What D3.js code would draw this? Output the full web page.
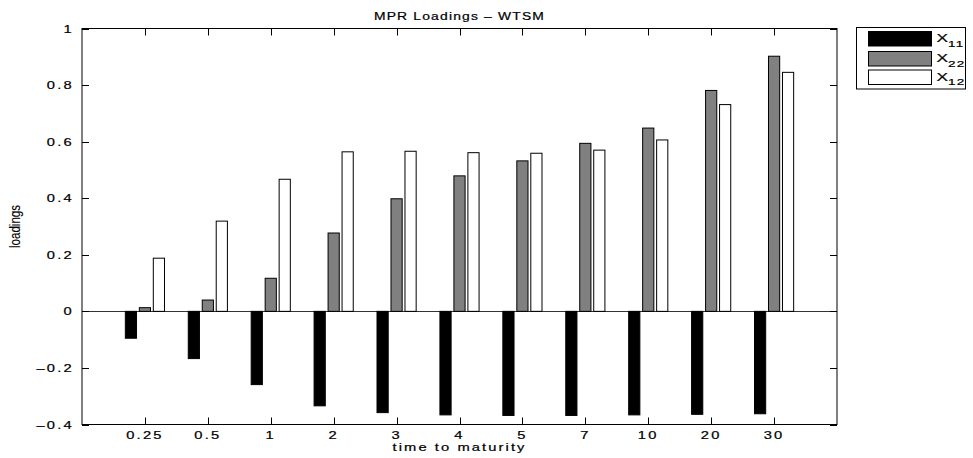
<!DOCTYPE html>
<html>
<head>
<meta charset="utf-8">
<script src="https://cdn.jsdelivr.net/npm/d3@7"></script>
<style>
  html, body { margin: 0; padding: 0; background: #fff; }
  svg text { font-family: "Liberation Sans", Arial, Helvetica, sans-serif; fill: #000; stroke: #000; stroke-width: 0.2px; }
</style>
</head>
<body>
<svg id="chart" width="973" height="458"></svg>
<script>
// Maturities (years) shown as categories along the x axis
const maturities = ["0.25", "0.5", "1", "2", "3", "4", "5", "7", "10", "20", "30"];

// Market-price-of-risk loadings per factor
const loadX11 = [-0.095, -0.167, -0.259, -0.334, -0.358, -0.366, -0.368, -0.368, -0.366, -0.364, -0.362];
const loadX22 = [0.013, 0.040, 0.117, 0.277, 0.398, 0.479, 0.532, 0.594, 0.648, 0.781, 0.902];
const loadX12 = [0.188, 0.319, 0.467, 0.564, 0.566, 0.561, 0.559, 0.570, 0.606, 0.731, 0.845];

const yTicks = [-0.4, -0.2, 0, 0.2, 0.4, 0.6, 0.8, 1];

const series = [
  { sub: "11", values: loadX11, fill: "#000000" },
  { sub: "22", values: loadX22, fill: "#808080" },
  { sub: "12", values: loadX12, fill: "#ffffff" }
];

const svg = d3.select("#chart");
const plotL = 82, plotR = 837, plotT = 28.5, plotB = 424.5;

// categories sit at integer positions 1..n on a 0..n+1 axis
const x = d3.scaleLinear().domain([0, maturities.length + 1]).range([plotL, plotR]);
const y = d3.scaleLinear().domain([-0.4, 1]).range([plotB, plotT]);

const groupWidth = Math.min(0.8, series.length / (series.length + 1.5));
const barWidth = groupWidth / series.length * 0.8;
const offsets = series.map((s, i) => (i - (series.length - 1) / 2) * groupWidth / series.length);

const sx = 1.4;       // horizontal stretch of label glyphs
const fs = 10.5;

function label(g, txt, px, py, anchor, opts = {}) {
  return g.append("text")
    .attr("transform", `translate(${px},${py}) scale(${opts.sx || sx},1)`)
    .attr("text-anchor", anchor)
    .style("font-size", (opts.size || fs) + "px")
    .style("letter-spacing", (opts.ls == null ? 1.6 : opts.ls) + "px")
    .text(txt);
}

// bars
series.forEach((s, si) => {
  svg.append("g").selectAll("rect")
    .data(s.values)
    .join("rect")
    .attr("x", (d, i) => x(i + 1 + offsets[si] - barWidth / 2))
    .attr("width", (d, i) => x(i + 1 + offsets[si] + barWidth / 2) - x(i + 1 + offsets[si] - barWidth / 2))
    .attr("y", d => Math.min(y(d), y(0)))
    .attr("height", d => Math.abs(y(d) - y(0)))
    .attr("fill", s.fill)
    .attr("stroke", "#000")
    .attr("stroke-width", 1);
});

// zero baseline
svg.append("line")
  .attr("x1", plotL).attr("x2", plotR)
  .attr("y1", Math.round(y(0)) + 0.5).attr("y2", Math.round(y(0)) + 0.5)
  .attr("stroke", "#000").attr("stroke-width", 0.8);

// axes box with inward ticks
const tickLen = 7;
const axes = svg.append("g").attr("stroke", "#000").attr("stroke-width", 1).attr("fill", "none");
axes.append("rect").attr("x", plotL).attr("y", plotT).attr("width", plotR - plotL).attr("height", plotB - plotT);

maturities.forEach((m, i) => {
  const px = Math.round(x(i + 1)) + 0.5;
  axes.append("line").attr("x1", px).attr("x2", px).attr("y1", plotB).attr("y2", plotB - tickLen);
  axes.append("line").attr("x1", px).attr("x2", px).attr("y1", plotT).attr("y2", plotT + tickLen);
});
yTicks.forEach(t => {
  const py = Math.round(y(t)) + 0.5;
  axes.append("line").attr("x1", plotL).attr("x2", plotL + tickLen).attr("y1", py).attr("y2", py);
  axes.append("line").attr("x1", plotR).attr("x2", plotR - tickLen).attr("y1", py).attr("y2", py);
});

// tick labels
const tl = svg.append("g");
maturities.forEach((m, i) => label(tl, m, x(i + 1), 438.5, "middle"));
yTicks.forEach(t => {
  const s = t < 0 ? "\u2013" + d3.format("")(Math.abs(t)) : d3.format("")(t);
  label(tl, s, 74, y(t) + 4, "end");
});

// titles
label(svg, "MPR Loadings \u2013 WTSM", x(6), 20, "middle", { sx: 1.32, ls: 0.9 });
label(svg, "time to maturity", x(6), 451, "middle", { ls: 1.5 });

svg.append("text")
  .attr("transform", `translate(20,226.5) rotate(-90) scale(0.77,1)`)
  .attr("text-anchor", "middle")
  .style("font-size", "15px")
  .style("stroke-width", "0.1px")
  .text("loadings");

// legend
const lg = svg.append("g");
lg.append("rect").attr("x", 856.5).attr("y", 27.5).attr("width", 109).attr("height", 61.5)
  .attr("fill", "#fff").attr("stroke", "#000").attr("stroke-width", 1);
const rowsY = [31.5, 51.5, 70];
series.forEach((s, i) => {
  lg.append("rect").attr("x", 868.5).attr("y", rowsY[i]).attr("width", 63).attr("height", 14.5)
    .attr("fill", s.fill).attr("stroke", "#000").attr("stroke-width", 1);
  const t = lg.append("text")
    .attr("transform", `translate(936.5,${rowsY[i] + 10.5}) scale(1.5,1)`)
    .style("font-size", "11.5px");
  t.append("tspan").text("X");
  t.append("tspan").attr("dy", 4.5).style("font-size", "9px").style("letter-spacing", "0.8px").text(s.sub);
});
</script>
</body>
</html>
